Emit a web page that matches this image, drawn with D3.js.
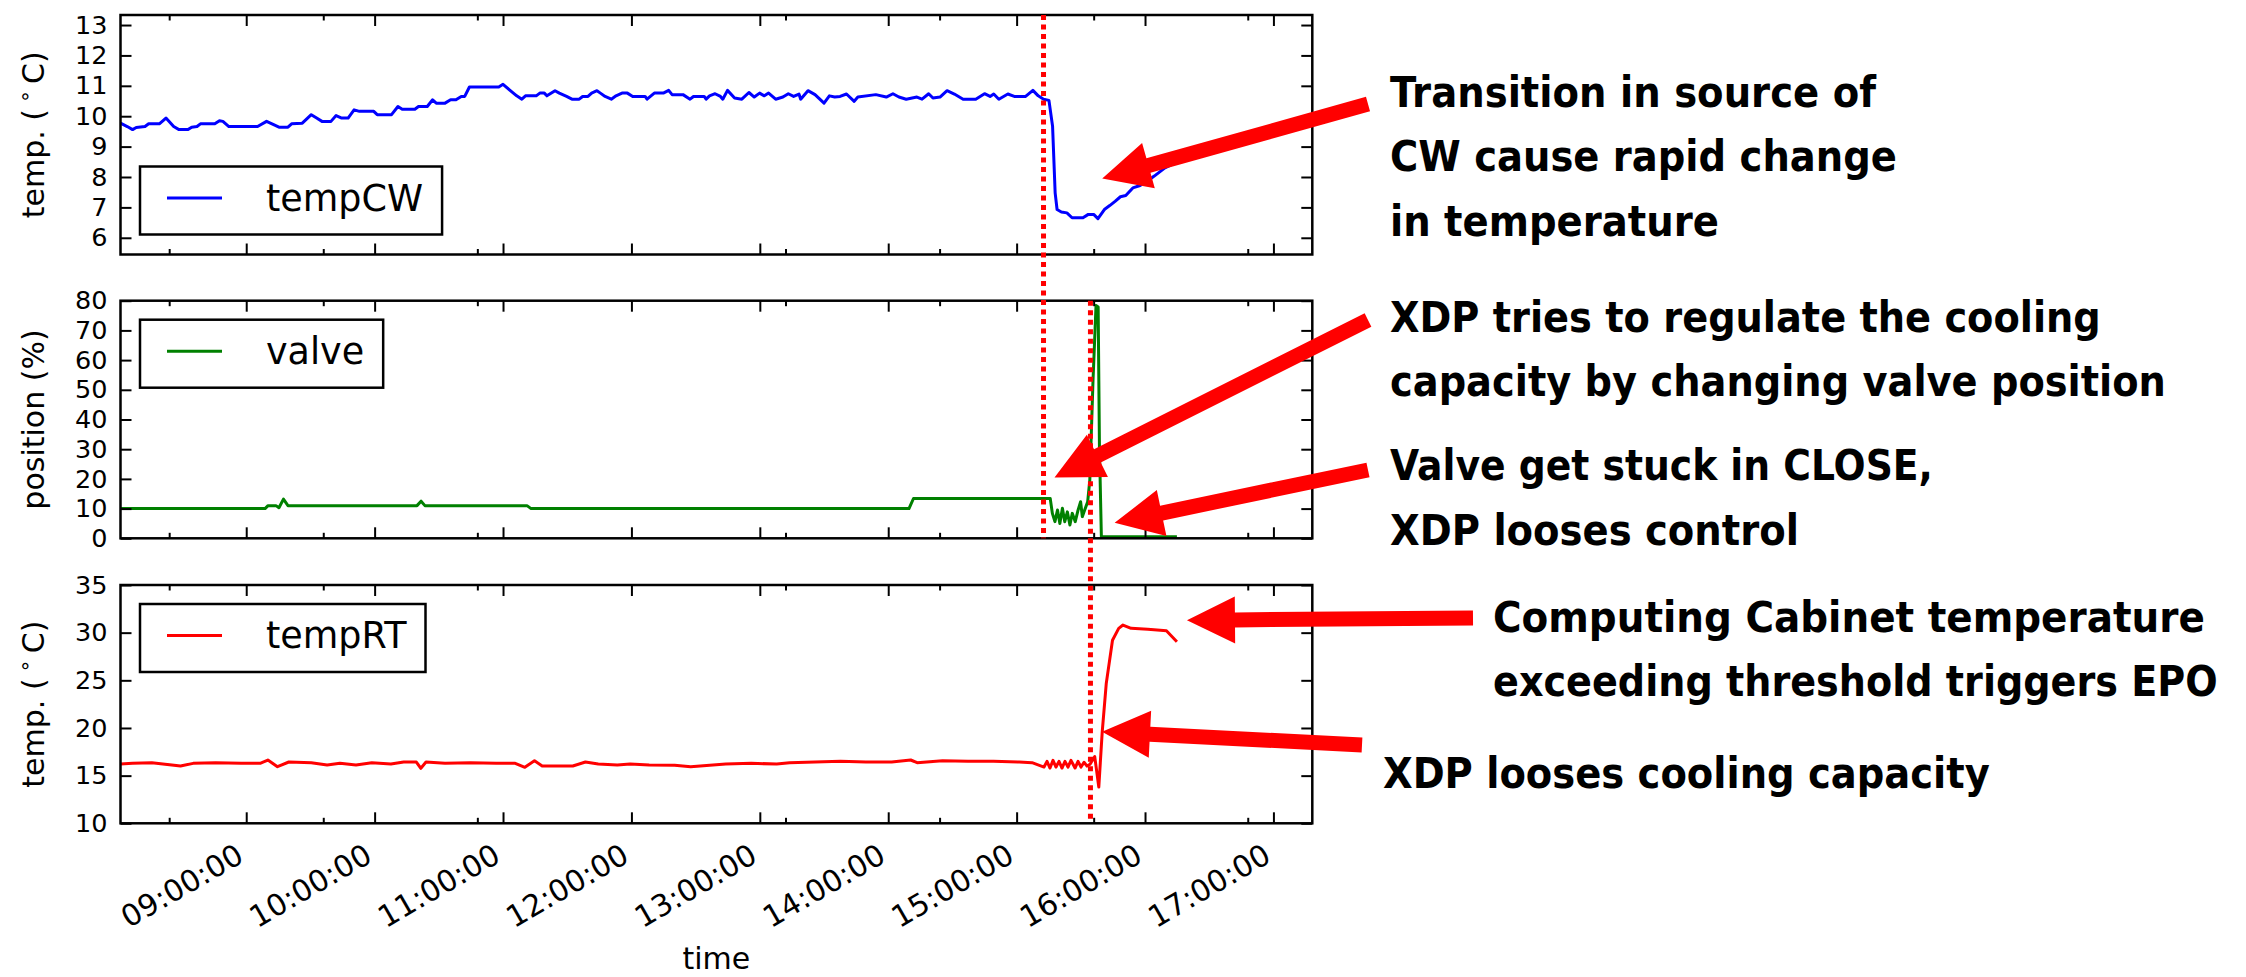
<!DOCTYPE html>
<html>
<head>
<meta charset="utf-8">
<script src="https://cdn.jsdelivr.net/npm/d3@7"></script>
<style>
  body { margin: 0; background: #fff; }
  text { font-family: "DejaVu Sans", sans-serif; }
</style>
</head>
<body>
<svg id="chart" width="2246" height="977"></svg>
<script>
// ---- data: minutes after 08:00 and readings ----
const tempCWMinutes = [
  1.25, 4.4, 6.9, 8.6, 12.7, 14.4, 19.4, 22.5, 26.1, 28.6,
  32.8, 34.5, 37.0, 38.6, 45.3, 47.5, 49.1, 51.9, 65.3, 69.5,
  72.8, 75.3, 79.5, 81.2, 86.2, 90.4, 92.9, 95.4, 99.6, 102.0,
  104.6, 107.6, 110.4, 112.9, 119.6, 121.2, 127.9, 130.9, 132.9, 138.8,
  140.5, 144.6, 147.1, 148.8, 152.9, 155.5, 158.0, 160.5, 162.1, 164.3,
  178.0, 180.0, 183.0, 186.4, 188.8, 190.5, 195.5, 197.2, 199.3, 200.5,
  204.3, 206.3, 209.7, 212.2, 215.6, 217.2, 219.7, 221.4, 223.9, 225.5,
  227.7, 230.6, 232.8, 235.6, 238.1, 240.6, 246.4, 247.3, 250.7, 254.9,
  257.4, 259.0, 264.1, 267.4, 269.0, 274.0, 274.9, 276.5, 279.1, 281.6,
  282.7, 284.9, 288.2, 291.6, 294.9, 297.4, 299.9, 302.1, 304.1, 307.4,
  310.8, 313.3, 315.8, 318.3, 319.1, 322.5, 325.8, 330.0, 332.5, 335.0,
  337.5, 340.5, 344.1, 345.8, 354.2, 359.1, 362.2, 365.0, 368.4, 373.4,
  375.8, 378.9, 380.9, 384.2, 387.5, 390.9, 395.0, 400.9, 405.0, 407.6,
  409.3, 411.7, 415.9, 418.9, 421.8, 424.2, 427.6, 430.1, 432.6, 435.1,
  436.8, 438.0, 438.9, 440.9, 443.5, 445.9, 451.0, 453.5, 456.0, 458.0,
  461.0, 463.5, 466.0, 468.5, 471.0, 474.3, 477.7, 481.0, 484.3, 489.3,
  493.5,
];
const tempCWValues = [
  9.77, 9.66, 9.56, 9.63, 9.66, 9.75, 9.75, 9.94, 9.66, 9.56,
  9.56, 9.64, 9.66, 9.75, 9.75, 9.85, 9.83, 9.66, 9.66, 9.83,
  9.72, 9.64, 9.64, 9.75, 9.77, 10.05, 9.94, 9.83, 9.83, 10.02,
  9.94, 9.94, 10.21, 10.16, 10.16, 10.05, 10.05, 10.32, 10.23, 10.23,
  10.32, 10.32, 10.54, 10.43, 10.43, 10.54, 10.54, 10.65, 10.65, 10.96,
  10.96, 11.05, 10.87, 10.67, 10.56, 10.67, 10.67, 10.76, 10.76, 10.67,
  10.84, 10.76, 10.65, 10.56, 10.56, 10.65, 10.65, 10.76, 10.84, 10.76,
  10.65, 10.56, 10.67, 10.76, 10.76, 10.65, 10.65, 10.56, 10.76, 10.76,
  10.85, 10.71, 10.71, 10.56, 10.65, 10.65, 10.56, 10.67, 10.74, 10.65,
  10.56, 10.85, 10.6, 10.56, 10.78, 10.63, 10.76, 10.67, 10.76, 10.56,
  10.63, 10.74, 10.65, 10.73, 10.56, 10.84, 10.71, 10.43, 10.67, 10.63,
  10.65, 10.73, 10.49, 10.63, 10.71, 10.63, 10.74, 10.63, 10.56, 10.63,
  10.56, 10.74, 10.6, 10.63, 10.84, 10.73, 10.56, 10.56, 10.74, 10.65,
  10.73, 10.56, 10.73, 10.65, 10.65, 10.65, 10.85, 10.67, 10.56, 10.52,
  9.67, 7.48, 6.93, 6.85, 6.82, 6.66, 6.66, 6.77, 6.77, 6.63,
  6.93, 7.06, 7.2, 7.35, 7.39, 7.64, 7.72, 7.86, 8.03, 8.3,
  8.45,
];

const valveMinutes = [
  1.25, 68.8, 70.2, 73.9, 75.3, 77.4, 79.5, 139.8, 141.7, 143.5,
  191.2, 193.1, 369.7, 371.8, 435.7, 436.7, 437.9, 439.1, 440.2, 441.4,
  442.5, 443.7, 444.9, 446.0, 447.4, 448.7, 449.9, 450.7, 451.8, 453.2,
  454.2, 455.7, 457.1, 458.1, 458.7, 459.6, 494.9,
];
const valveValues = [
  10, 10, 11, 11, 10.3, 13.2, 11, 11, 12.5, 11,
  11, 10, 10, 13.4, 13.4, 8.4, 5.6, 9.5, 5.0, 10.1,
  5.6, 8.9, 4.5, 8.4, 5.6, 9.5, 12.3, 7.3, 9.5, 12.3,
  19.6, 53.2, 78.4, 77.9, 30.8, 0.5, 0.5,
];

const tempRTMinutes = [
  1.25, 6.9, 15.9, 29.3, 35.2, 45.7, 57.6, 66.5, 70.1, 74.6,
  79.9, 90.4, 97.8, 103.8, 111.3, 118.7, 127.6, 133.6, 139.5, 141.6,
  144.0, 152.9, 164.8, 176.8, 185.7, 190.2, 194.7, 198.3, 212.6, 218.5,
  224.5, 233.4, 239.4, 248.3, 260.2, 267.7, 276.6, 284.1, 296.0, 307.9,
  313.9, 325.8, 337.7, 349.6, 361.6, 370.5, 373.5, 385.4, 397.3, 409.2,
  421.2, 427.2, 432.8, 434.2, 435.6, 437.0, 438.4, 439.8, 441.2, 442.6,
  444.0, 445.4, 447.3, 448.7, 450.1, 451.5, 452.9, 454.3, 456.5, 458.4,
  460.0, 461.9, 464.8, 467.7, 469.7, 473.5, 481.3, 490.0, 494.9,
];
const tempRTValues = [
  16.22, 16.29, 16.36, 16.01, 16.29, 16.36, 16.29, 16.29, 16.64, 15.94,
  16.43, 16.36, 16.12, 16.29, 16.12, 16.36, 16.22, 16.43, 16.43, 15.77,
  16.43, 16.29, 16.36, 16.29, 16.29, 15.87, 16.57, 16.01, 16.01, 16.43,
  16.22, 16.12, 16.22, 16.12, 16.08, 15.94, 16.08, 16.22, 16.29, 16.22,
  16.36, 16.43, 16.5, 16.43, 16.43, 16.64, 16.36, 16.57, 16.5, 16.5,
  16.43, 16.36, 15.9, 16.5, 15.8, 16.6, 15.9, 16.5, 15.8, 16.5,
  15.9, 16.6, 15.8, 16.5, 15.9, 16.4, 16.0, 16.2, 17.0, 13.8,
  19.6, 24.7, 29.2, 30.45, 30.8, 30.45, 30.35, 30.2, 29.05,
];

// ---- axis values ----
const timeRange = ["08:01:15", "17:18:10"];
const majorTickLabels = ["09:00:00", "10:00:00", "11:00:00", "12:00:00", "13:00:00",
  "14:00:00", "15:00:00", "16:00:00", "17:00:00"];
const minorTickTimes = ["08:24:00", "09:36:00", "10:48:00", "13:12:00", "14:24:00",
  "15:36:00", "16:48:00"];
const eventTimes = ["15:12:34", "15:34:30"];

// ---- annotations ----
const noteLines = [
  ["Transition in source of", "CW cause rapid change", "in temperature"],
  ["XDP tries to regulate the cooling", "capacity by changing valve position"],
  ["Valve get stuck in CLOSE,", "XDP looses control"],
  ["Computing Cabinet temperature", "exceeding threshold triggers EPO"],
  ["XDP looses cooling capacity"],
];
// what each arrow points at (panel, time, value)
const arrowPanel = [0, 1, 1, 2, 2];
const arrowTime = ["15:40:00", "15:17:42", "15:45:48", "16:19:36", "15:39:54"];
const arrowValue = [7.95, 20.5, 5.2, 31.3, 19.6];

// ---- layout ----
const W = 2246, H = 977;
const X0 = 120.5, X1 = 1312.3;
const panels = [
  { name: "tempCW", color: "#0000ff", minutes: tempCWMinutes, values: tempCWValues,
    domain: [5.45, 13.33], ticks: 8, label: "temp", top: 15, bottom: 254.5, legend: "lower" },
  { name: "valve", color: "#008000", minutes: valveMinutes, values: valveValues,
    domain: [0, 80], ticks: 8, label: "position (%)", top: 300.7, bottom: 538.3, legend: "upper" },
  { name: "tempRT", color: "#ff0000", minutes: tempRTMinutes, values: tempRTValues,
    domain: [10, 35], ticks: 5, label: "temp", top: 585, bottom: 823.3, legend: "upper" },
];
const eventSpan = [[0, 1], [1, 2]];
const noteLayout = [
  { x: 1390, y: 107, widths: [486, 507, 329], tail: [1368, 104] },
  { x: 1390, y: 332, widths: [711, 776], tail: [1368, 320] },
  { x: 1390, y: 480.4, widths: [543, 409], tail: [1368, 470] },
  { x: 1493, y: 631.7, widths: [712, 725], tail: [1473, 618] },
  { x: 1383, y: 788.3, widths: [607], tail: [1362, 745] },
];

const parseTime = (s) => {
  const [h, m, sec] = s.split(":").map(Number);
  return new Date(2000, 0, 1, h, m, sec);
};
const base = new Date(2000, 0, 1, 8, 0, 0);
const atMinute = (m) => new Date(base.getTime() + m * 60000);

const svg = d3.select("#chart");
svg.append("rect").attr("width", W).attr("height", H).attr("fill", "#fff");

const x = d3.scaleTime().domain(timeRange.map(parseTime)).range([X0, X1]);
const fmt = d3.timeFormat("%H:%M:%S");

const styleAxis = (g, size = 30) => {
  g.select(".domain").remove();
  g.attr("font-family", "DejaVu Sans").attr("font-size", size);
  g.selectAll("line").attr("stroke", "#000").attr("stroke-width", 2);
  g.selectAll("text").attr("fill", "#000");
};

panels.forEach((p, i) => {
  const y = d3.scaleLinear().domain(p.domain).range([p.bottom, p.top]);
  p.y = y;
  const g = svg.append("g").attr("class", `panel-${p.name}`);

  // data line
  g.append("path")
    .datum(d3.zip(p.minutes, p.values))
    .attr("fill", "none")
    .attr("stroke", p.color)
    .attr("stroke-width", 3)
    .attr("stroke-linejoin", "round")
    .attr("d", d3.line().x((d) => x(atMinute(d[0]))).y((d) => y(d[1])));

  // ticks point inward on all four sides
  g.append("g").attr("transform", `translate(${X0},0)`)
    .call(d3.axisLeft(y).ticks(p.ticks).tickSize(-11).tickPadding(13))
    .call(styleAxis, 25.5);
  g.append("g").attr("transform", `translate(${X1},0)`)
    .call(d3.axisRight(y).ticks(p.ticks).tickSize(-11).tickFormat(""))
    .call(styleAxis);

  const majors = majorTickLabels.map(parseTime);
  const minors = minorTickTimes.map(parseTime);
  [[p.top, d3.axisTop], [p.bottom, d3.axisBottom]].forEach(([yy, axisFn]) => {
    g.append("g").attr("transform", `translate(0,${yy})`)
      .call(axisFn(x).tickValues(minors).tickSize(-5.5).tickFormat(""))
      .call(styleAxis);
  });
  g.append("g").attr("transform", `translate(0,${p.top})`)
    .call(d3.axisTop(x).tickValues(majors).tickSize(-11).tickFormat(""))
    .call(styleAxis);
  const bottomAxis = g.append("g").attr("transform", `translate(0,${p.bottom})`)
    .call(d3.axisBottom(x).tickValues(majors).tickSize(-11)
      .tickFormat(i === panels.length - 1 ? fmt : ""))
    .call(styleAxis);

  // rotated time labels, right end hooked under the tick
  bottomAxis.selectAll("text")
    .attr("x", 0).attr("y", 0).attr("dy", "0.72em")
    .attr("text-anchor", "end")
    .attr("transform", "translate(-12,19) rotate(-30)");

  // frame
  g.append("rect")
    .attr("x", X0).attr("y", p.top)
    .attr("width", X1 - X0).attr("height", p.bottom - p.top)
    .attr("fill", "none").attr("stroke", "#000").attr("stroke-width", 2.5);

  // y axis label
  const cy = (p.top + p.bottom) / 2;
  const lab = g.append("text")
    .attr("transform", `translate(44,${cy}) rotate(-90)`)
    .attr("text-anchor", "middle")
    .attr("font-size", 30);
  if (p.label === "temp") {
    lab.append("tspan").text("temp. (\u2009");
    lab.append("tspan").attr("font-size", 21).attr("dy", -12).text("\u2218");
    lab.append("tspan").attr("dy", 12).text("\u2009C)");
  } else {
    lab.text(p.label);
  }

  // legend
  const boxH = 68;
  const boxY = p.legend === "lower" ? p.bottom - 20 - boxH : p.top + 19;
  const boxX = 140;
  const lg = g.append("g");
  const box = lg.append("rect")
    .attr("x", boxX).attr("y", boxY).attr("height", boxH)
    .attr("fill", "#fff").attr("stroke", "#000").attr("stroke-width", 2.5);
  lg.append("line")
    .attr("x1", boxX + 27).attr("x2", boxX + 82)
    .attr("y1", boxY + boxH / 2 - 2.5).attr("y2", boxY + boxH / 2 - 2.5)
    .attr("stroke", p.color).attr("stroke-width", 3);
  const lt = lg.append("text")
    .attr("x", boxX + 126).attr("y", boxY + boxH / 2 + 10)
    .attr("font-size", 36.5)
    .text(p.name);
  box.attr("width", 126 + lt.node().getComputedTextLength() + 19);
});

// x axis title
svg.append("text")
  .attr("x", (X0 + X1) / 2).attr("y", 969)
  .attr("text-anchor", "middle").attr("font-size", 30)
  .text("time");

// dotted event markers spanning two panels each
eventTimes.forEach((t, i) => {
  const [a, b] = eventSpan[i];
  svg.append("line")
    .attr("x1", x(parseTime(t))).attr("x2", x(parseTime(t)))
    .attr("y1", panels[a].top).attr("y2", panels[b].bottom)
    .attr("stroke", "#ff0000").attr("stroke-width", 5)
    .attr("stroke-dasharray", "5,4.5");
});

// block arrows
const headLen = 48, headW = 47, shaftW = 15;
const arrowPath = (tip, tail) => {
  const dx = tail[0] - tip[0], dy = tail[1] - tip[1];
  const len = Math.hypot(dx, dy);
  const ux = dx / len, uy = dy / len, nx = -uy, ny = ux;
  const bx = tip[0] + ux * headLen, by = tip[1] + uy * headLen;
  const pts = [
    tip,
    [bx + nx * headW / 2, by + ny * headW / 2],
    [bx + nx * shaftW / 2, by + ny * shaftW / 2],
    [tail[0] + nx * shaftW / 2, tail[1] + ny * shaftW / 2],
    [tail[0] - nx * shaftW / 2, tail[1] - ny * shaftW / 2],
    [bx - nx * shaftW / 2, by - ny * shaftW / 2],
    [bx - nx * headW / 2, by - ny * headW / 2],
  ];
  return "M" + pts.map((q) => q.join(",")).join("L") + "Z";
};

noteLines.forEach((lines, i) => {
  const lay = noteLayout[i];
  const p = panels[arrowPanel[i]];
  const tip = [x(parseTime(arrowTime[i])), p.y(arrowValue[i])];
  svg.append("path").attr("d", arrowPath(tip, lay.tail)).attr("fill", "#ff0000");

  lines.forEach((line, j) => {
    // squeeze each line horizontally to the width it has in the slide
    const t = svg.append("text")
      .attr("x", 0).attr("y", 0)
      .attr("font-family", "Lato, 'Open Sans', sans-serif")
      .attr("font-weight", 700)
      .attr("font-size", 43)
      .text(line);
    const natural = t.node().getComputedTextLength();
    t.attr("transform",
      `translate(${lay.x},${lay.y + j * 64.3}) scale(${lay.widths[j] / natural},1)`);
  });
});
</script>
</body>
</html>
